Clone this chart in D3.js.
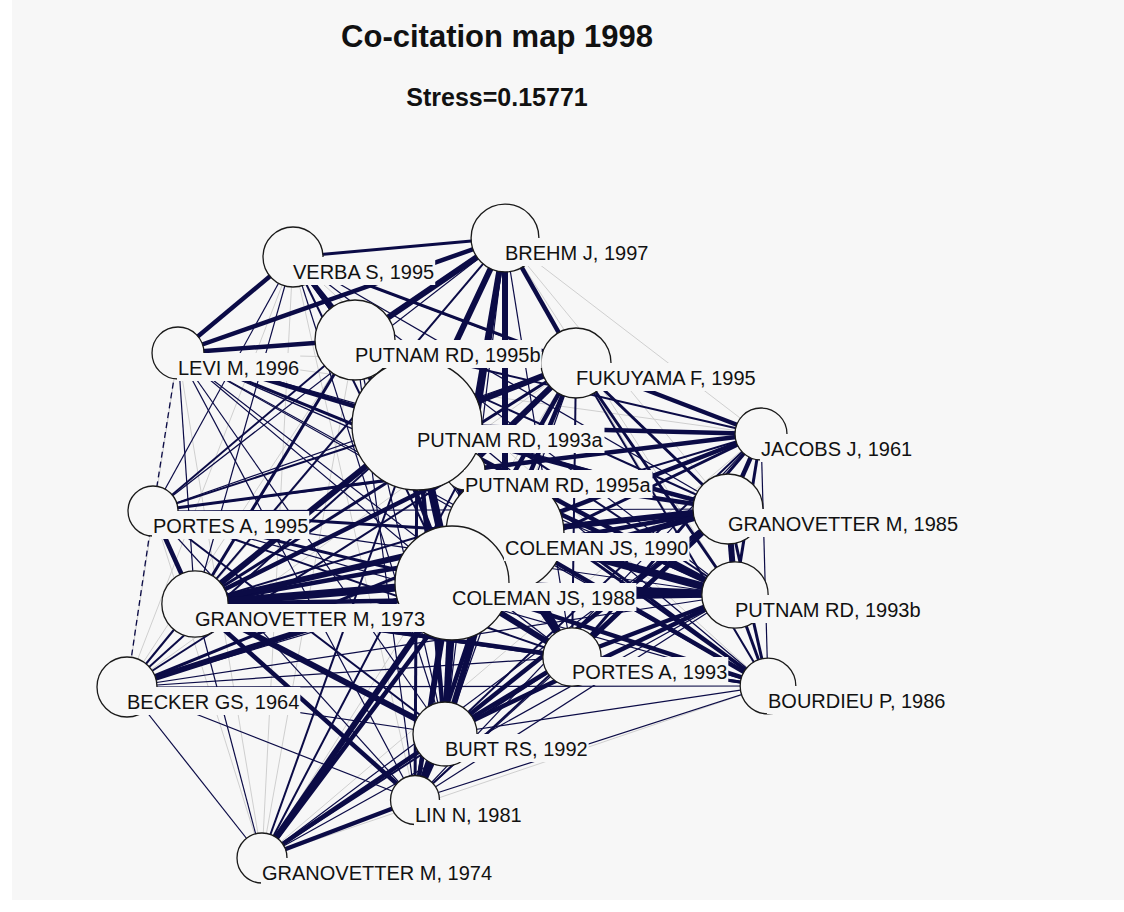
<!DOCTYPE html>
<html><head><meta charset="utf-8">
<script src="https://cdn.jsdelivr.net/npm/d3@7"></script>
<style>
html,body{margin:0;padding:0;background:#ffffff;}
svg{display:block;}
</style></head>
<body>
<svg id="chart" width="1124" height="912"></svg>
<script>
// ---- DATA ----
const chartTitle = "Co-citation map 1998";
const stressLabel = "Stress=0.15771";

const nodeKeys = ["BR","VE","LE","P95b","FU","P95a","P93a","JA","PO95","G85","C90","G73","C88","P93b","PO93","BE","BO","BU","LI","G74"];
const nodeNames = ["BREHM J, 1997","VERBA S, 1995","LEVI M, 1996","PUTNAM RD, 1995b","FUKUYAMA F, 1995","PUTNAM RD, 1995a","PUTNAM RD, 1993a","JACOBS J, 1961","PORTES A, 1995","GRANOVETTER M, 1985","COLEMAN JS, 1990","GRANOVETTER M, 1973","COLEMAN JS, 1988","PUTNAM RD, 1993b","PORTES A, 1993","BECKER GS, 1964","BOURDIEU P, 1986","BURT RS, 1992","LIN N, 1981","GRANOVETTER M, 1974"];
// map coordinates (dimension 1 / dimension 2)
const dim1 = [5.05,2.93,1.78,3.55,5.76,4.65,4.17,7.61,1.53,7.28,5.05,1.95,4.52,7.35,5.72,1.27,7.68,4.45,4.15,2.62];
const dim2 = [2.38,2.57,3.53,3.40,3.63,4.70,4.25,4.34,5.11,5.09,5.33,6.04,5.83,5.95,6.57,6.87,6.86,7.34,8.00,8.58];
// citation counts (circle area)
const citations = [46,36,27,64,49,16,169,27,25,49,139,44,130,44,34,36,31,41,24,25];

// co-citation strength classes between pairs (1 = weak ... 8 = strongest)
const coCitations = [
 ["BR","VE",5],["BR","LE",6],["BR","P95b",7],["BR","FU",6],["BR","P93a",7],["BR","JA",1],["BR","P95a",7],["BR","PO95",3],["BR","G85",1],["BR","C90",7],["BR","G73",4],["BR","C88",6],["BR","P93b",1],["BR","PO93",3],["BR","BE",1],["BR","BO",1],["BR","BU",3],["BR","LI",1],
 ["VE","LE",6],["VE","P95b",6],["VE","FU",5],["VE","P93a",6],["VE","JA",3],["VE","P95a",5],["VE","PO95",3],["VE","G85",3],["VE","C90",4],["VE","G73",3],["VE","C88",4],["VE","P93b",3],["VE","PO93",3],["VE","BE",1],["VE","BO",1],["VE","BU",3],["VE","LI",1],["VE","G74",1],
 ["LE","P95b",6],["LE","FU",1],["LE","P93a",6],["LE","JA",1],["LE","P95a",5],["LE","PO95",2],["LE","G85",3],["LE","C90",3],["LE","G73",3],["LE","C88",3],["LE","P93b",3],["LE","PO93",3],["LE","BE",1],["LE","BO",3],["LE","BU",3],["LE","LI",3],["LE","G74",1],
 ["P95b","FU",6],["P95b","P93a",8],["P95b","JA",4],["P95b","P95a",7],["P95b","PO95",4],["P95b","G85",4],["P95b","C90",6],["P95b","G73",5],["P95b","C88",6],["P95b","P93b",4],["P95b","PO93",4],["P95b","BE",1],["P95b","BO",3],["P95b","BU",3],["P95b","LI",3],["P95b","G74",1],
 ["FU","P93a",7],["FU","JA",6],["FU","P95a",7],["FU","PO95",3],["FU","G85",5],["FU","C90",6],["FU","G73",5],["FU","C88",6],["FU","P93b",5],["FU","PO93",4],["FU","BE",1],["FU","BO",4],["FU","BU",3],["FU","LI",1],["FU","G74",1],
 ["P93a","JA",6],["P93a","P95a",8],["P93a","PO95",4],["P93a","G85",6],["P93a","C90",8],["P93a","G73",7],["P93a","C88",8],["P93a","P93b",6],["P93a","PO93",6],["P93a","BE",4],["P93a","BO",5],["P93a","BU",6],["P93a","LI",5],["P93a","G74",4],
 ["JA","P95a",6],["JA","PO95",3],["JA","G85",6],["JA","C90",6],["JA","G73",4],["JA","C88",5],["JA","P93b",5],["JA","PO93",5],["JA","BE",1],["JA","BO",3],["JA","BU",4],["JA","LI",3],["JA","G74",1],
 ["P95a","PO95",5],["P95a","G85",6],["P95a","C90",8],["P95a","G73",6],["P95a","C88",8],["P95a","P93b",6],["P95a","PO93",6],["P95a","BE",4],["P95a","BO",5],["P95a","BU",6],["P95a","LI",5],["P95a","G74",4],
 ["PO95","G85",3],["PO95","C90",5],["PO95","G73",6],["PO95","C88",5],["PO95","P93b",3],["PO95","PO93",4],["PO95","BE",2],["PO95","BO",3],["PO95","BU",4],["PO95","LI",3],["PO95","G74",1],
 ["G85","C90",7],["G85","G73",6],["G85","C88",7],["G85","P93b",7],["G85","PO93",6],["G85","BE",3],["G85","BO",5],["G85","BU",6],["G85","LI",4],["G85","G74",3],
 ["C90","G73",7],["C90","C88",8],["C90","P93b",8],["C90","PO93",7],["C90","BE",5],["C90","BO",6],["C90","BU",7],["C90","LI",6],["C90","G74",6],
 ["G73","C88",8],["G73","P93b",6],["G73","PO93",6],["G73","BE",4],["G73","BO",5],["G73","BU",7],["G73","LI",6],["G73","G74",3],
 ["C88","P93b",8],["C88","PO93",7],["C88","BE",7],["C88","BO",6],["C88","BU",7],["C88","LI",6],["C88","G74",7],
 ["P93b","PO93",6],["P93b","BE",3],["P93b","BO",5],["P93b","BU",6],["P93b","LI",3],["P93b","G74",3],
 ["PO93","BE",3],["PO93","BO",5],["PO93","BU",6],["PO93","LI",3],["PO93","G74",4],
 ["BE","BO",3],["BE","BU",3],["BE","LI",3],["BE","G74",3],
 ["BO","BU",3],["BO","LI",3],["BO","G74",1],
 ["BU","LI",7],["BU","G74",6],
 ["LI","G74",6]
];

// ---- DRAWING ----
const W = 1124, H = 912;
const bg = "#f7f7f7";
const svg = d3.select("#chart");

svg.append("rect").attr("x",12).attr("y",0).attr("width",W-12).attr("height",900).attr("fill",bg);

const x = d3.scaleLinear().domain([0, 11.24]).range([0, W]);
const y = d3.scaleLinear().domain([0, 9.12]).range([0, H]);
const r = d3.scaleSqrt().domain([0, 169]).range([0, 65]);

const strengthWidth = d3.scaleOrdinal().domain([1,2,3,4,5,6,7,8]).range([1,1.3,1.2,2,3,4.5,6,8]);
const strengthColor = d3.scaleOrdinal().domain([1,2,3,4,5,6,7,8]).range(["#cfcfcf","#0b0b46","#0b0b46","#0b0b46","#0b0b46","#0b0b46","#0b0b46","#0b0b46"]);
const strengthDash = d3.scaleOrdinal().domain([1,2,3,4,5,6,7,8]).range([null,"6,4",null,null,null,null,null,null]);

const nodes = nodeKeys.map((k,i)=>({key:k, name:nodeNames[i], d1:dim1[i], d2:dim2[i], c:citations[i]}));
const byKey = new Map(nodes.map(n=>[n.key,n]));
const links = coCitations.map(([s,t,v])=>({s:byKey.get(s), t:byKey.get(t), v}))
  .sort((a,b)=>a.v-b.v);

svg.append("g").selectAll("line").data(links).join("line")
  .attr("x1",d=>x(d.s.d1)).attr("y1",d=>y(d.s.d2))
  .attr("x2",d=>x(d.t.d1)).attr("y2",d=>y(d.t.d2))
  .attr("stroke",d=>strengthColor(d.v))
  .attr("stroke-width",d=>strengthWidth(d.v))
  .attr("stroke-dasharray",d=>strengthDash(d.v));

svg.append("g").selectAll("circle").data(nodes).join("circle")
  .attr("cx",d=>x(d.d1)).attr("cy",d=>y(d.d2)).attr("r",d=>r(d.c))
  .attr("fill",bg).attr("stroke","#1a1a1a").attr("stroke-width",1.3);

const lab = svg.append("g").selectAll("g").data(nodes).join("g")
  .attr("transform",d=>`translate(${x(d.d1)},${y(d.d2)+22})`);
const txt = lab.append("text")
  .attr("font-family","'Liberation Sans', Arial, sans-serif")
  .attr("font-size",20).attr("fill","#111")
  .text(d=>d.name);
txt.each(function(){
  const bb = this.getBBox();
  d3.select(this.parentNode).insert("rect","text")
    .attr("x",bb.x-1).attr("y",-22).attr("width",bb.width+2).attr("height",28)
    .attr("fill",bg);
});

svg.append("text").attr("x",497).attr("y",47).attr("text-anchor","middle")
  .attr("font-family","'Liberation Sans', Arial, sans-serif").attr("font-weight","bold")
  .attr("font-size",31).attr("fill","#111").text(chartTitle);
svg.append("text").attr("x",497).attr("y",106).attr("text-anchor","middle")
  .attr("font-family","'Liberation Sans', Arial, sans-serif").attr("font-weight","bold")
  .attr("font-size",25).attr("fill","#111").text(stressLabel);
</script>
</body></html>
